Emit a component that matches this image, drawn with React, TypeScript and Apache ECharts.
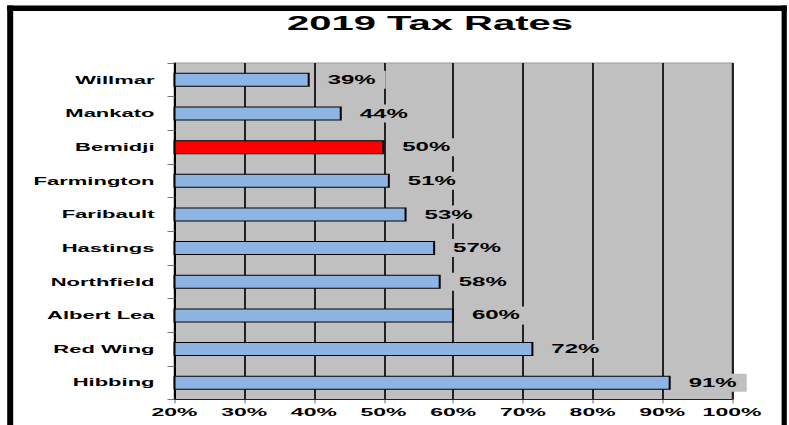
import React, { useEffect, useRef } from "react";
import * as echarts from "echarts";

const titleText = "2019 Tax Rates";
const cities = [
  "Willmar",
  "Mankato",
  "Bemidji",
  "Farmington",
  "Faribault",
  "Hastings",
  "Northfield",
  "Albert Lea",
  "Red Wing",
  "Hibbing",
];
const rates = [39.4, 44.0, 50.1, 50.9, 53.3, 57.4, 58.2, 60.1, 71.5, 91.2];
const highlightCity = "Bemidji";
const axisMin = 20;
const axisMax = 100;
const axisStep = 10;

const FONT = "'Liberation Sans', Arial, Helvetica, sans-serif";
const W = 394.5; // drawn at half width, then stretched 2x horizontally like the original
const H = 425;

export default function App() {
  const ref = useRef<HTMLDivElement>(null);

  useEffect(() => {
    if (!ref.current) return;
    const chart = echarts.init(ref.current, undefined, {
      renderer: "svg",
      width: W,
      height: H,
    });
    chart.setOption({
      animation: false,
      backgroundColor: "transparent",
      title: {
        text: titleText,
        left: 143.5,
        top: 13,
        padding: 0,
        textStyle: {
          fontSize: 20,
          fontWeight: "bold",
          fontFamily: FONT,
          color: "#000",
        },
      },
      graphic: [
        { type: "rect", shape: { x: 3.6, y: 5.5, width: 3, height: 430 }, style: { fill: "#000" } },
        { type: "rect", shape: { x: 3.6, y: 5.5, width: 389.8, height: 5.5 }, style: { fill: "#000" } },
        { type: "rect", shape: { x: 390.8, y: 5.5, width: 2.6, height: 430 }, style: { fill: "#000" } },
      ],
      grid: {
        left: 87.25,
        right: W - 366,
        top: 63,
        bottom: 25.5,
        show: true,
        backgroundColor: "#c0c0c0",
        borderColor: "#9a9a9a",
        borderWidth: 1,
        containLabel: false,
      },
      xAxis: {
        type: "value",
        min: axisMin,
        max: axisMax,
        interval: axisStep,
        axisLine: { show: true, lineStyle: { color: "#222", width: 1 } },
        axisTick: { show: true, length: 4, lineStyle: { color: "#444", width: 0.5 } },
        splitLine: { show: true, lineStyle: { color: "#111", width: 0.9 } },
        axisLabel: {
          formatter: "{value}%",
          margin: 7,
          fontSize: 11.5,
          fontWeight: "bold",
          fontFamily: FONT,
          color: "#000",
        },
      },
      yAxis: {
        type: "category",
        data: cities,
        inverse: true,
        axisLine: { show: true, lineStyle: { color: "#000", width: 1 } },
        axisTick: { show: true, length: 3.5, lineStyle: { color: "#777", width: 1 } },
        axisLabel: {
          margin: 10,
          fontSize: 11,
          fontWeight: "bold",
          fontFamily: FONT,
          color: "#000",
        },
      },
      series: [
        {
          type: "bar",
          barWidth: 14,
          data: rates.map((v, i) => ({
            value: v,
            itemStyle: {
              color: cities[i] === highlightCity ? "#ff0000" : "#8db4e2",
            },
          })),
          itemStyle: { borderColor: "#000", borderWidth: 1 },
          label: {
            show: true,
            position: "right",
            distance: 4,
            formatter: (p: any) => Math.round(p.value) + "%",
            fontSize: 12,
            fontWeight: "bold",
            fontFamily: FONT,
            color: "#000",
            backgroundColor: "#c0c0c0",
            padding: [3, 5, 3, 5],
          },
        },
      ],
    });
    return () => chart.dispose();
  }, []);

  return (
    <div
      style={{
        position: "absolute",
        left: 0,
        top: 0,
        width: 789,
        height: 425,
        overflow: "hidden",
        background: "#fff",
      }}
    >
      <div
        ref={ref}
        style={{
          width: W,
          height: H,
          transform: "scaleX(2)",
          transformOrigin: "0 0",
        }}
      />
    </div>
  );
}
